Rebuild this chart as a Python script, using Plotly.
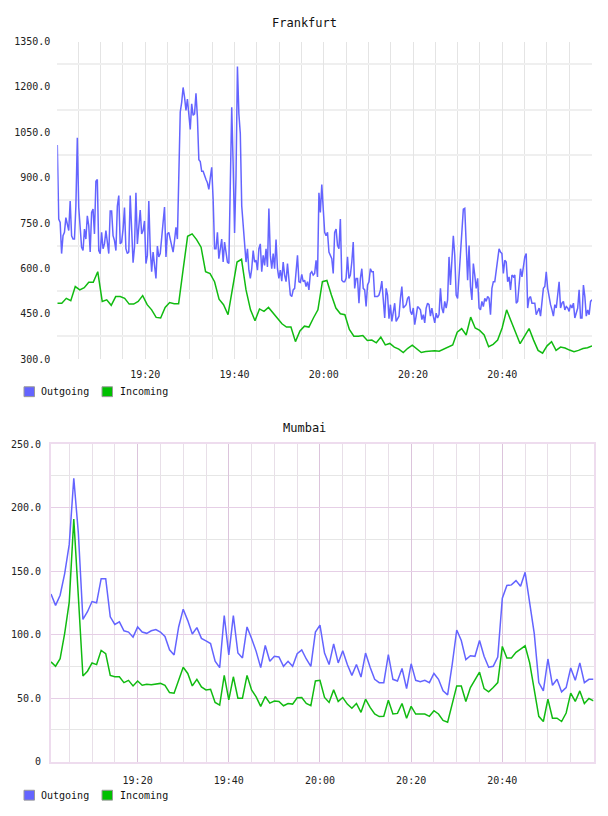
import numpy as np
import pandas as pd
import plotly.graph_objects as go

DAY = "2024-01-01 "

# ---------------- Frankfurt ----------------
fra_start, fra_end = DAY + "19:00:18", DAY + "21:00:06"
fra_outgoing = [
    1008, 763, 752, 649, 708, 719, 768, 741, 725, 823, 708, 697, 697, 806, 1032, 801, 741, 670, 659, 730,
    697, 774, 741, 654, 785, 796, 714, 888, 894, 659, 649, 719, 665, 681, 725, 676, 649, 790, 790, 708,
    692, 659, 806, 841, 681, 687, 730, 801, 665, 649, 654, 841, 730, 619, 670, 850, 681, 741, 793, 714,
    725, 757, 616, 643, 823, 665, 589, 654, 599, 567, 674, 638, 649, 714, 752, 803, 638, 714, 719, 697,
    676, 654, 692, 736, 697, 872, 1117, 1149, 1198, 1166, 1122, 1160, 1111, 1059, 1144, 1106, 1111, 1179, 1100, 959,
    953, 921, 921, 904, 894, 883, 861, 899, 934, 828, 665, 665, 719, 632, 670, 697, 621, 687, 654, 621,
    616, 828, 1133, 943, 717, 904, 1267, 1111, 1046, 806, 752, 687, 621, 665, 594, 567, 599, 659, 621, 627,
    594, 665, 681, 589, 643, 610, 665, 605, 798, 643, 599, 649, 599, 695, 599, 567, 594, 558, 621, 578,
    556, 616, 556, 512, 507, 529, 534, 578, 643, 556, 554, 580, 556, 561, 540, 556, 529, 583, 589, 578,
    583, 627, 572,
    850, 785, 877, 774, 719, 708, 719, 654, 643, 632, 583, 719, 730, 676, 665, 763, 561, 556, 556, 567,
    638, 567, 578, 621, 687, 534, 567, 567, 485, 567, 599, 534, 529, 474, 545, 556, 599, 589, 589, 507,
    507, 507, 512, 529, 558, 480, 436, 534, 512, 434, 480, 425, 458, 485, 425, 436, 442, 501, 540, 469,
    474, 480, 501, 507, 458, 447, 469, 414, 442, 474, 469, 463, 431, 447, 420, 469, 485, 480, 442, 469,
    442, 420, 452, 436, 447, 534, 469, 452, 491, 469, 496, 638, 545, 638, 708, 643, 512, 501, 578, 643,
    708, 796, 799, 676, 561, 676, 540, 496, 616, 578, 534, 567, 469, 463, 491, 474, 501, 491, 507, 501,
    447, 534, 556, 556, 599, 643, 665, 654, 649, 583, 627, 621, 556, 572, 529, 578, 572, 578, 485, 491,
    540, 599, 572, 616, 638, 649, 469, 501, 507, 485, 485, 485, 447, 458, 469, 442, 480, 534, 540, 589,
    534, 501, 480, 463, 442, 480, 469, 512, 556, 469, 485, 491, 463, 474, 469, 458, 480, 469, 485, 436,
    458, 469, 529, 436, 436, 545, 507, 442, 463, 447, 491, 496,
]
fra_incoming = [
    485, 485, 501, 493, 540, 529, 536, 554, 554, 589, 491, 496, 478, 507, 507, 501, 482, 482, 491, 510,
    480, 463, 438, 436, 471, 487, 483, 483, 596, 706, 714, 695, 670, 589, 583, 556, 498, 480, 447, 540,
    621, 630, 529, 463, 427, 466, 458, 471, 452, 436, 417, 406, 406, 358, 393, 409, 406, 436, 463, 556,
    560, 512, 469, 450, 447, 398, 376, 376, 378, 362, 363, 354, 373, 347, 352, 340, 333, 322, 336, 346,
    333, 322, 325, 327, 328, 326, 333, 338, 347, 389, 401, 380, 439, 403, 395, 380, 341, 349, 363, 403,
    463, 425, 387, 351, 376, 401, 363, 329, 320, 344, 358, 329, 340, 337, 330, 325, 329, 335, 338, 344,
]
fra_yticks = [300, 450, 600, 750, 900, 1050, 1200, 1350]

# ---------------- Mumbai ----------------
mum_start, mum_end = DAY + "19:01:00", DAY + "21:00:00"
mum_outgoing = [
    132, 123, 131, 148, 171, 223, 180, 112, 118, 126, 125, 144, 144, 114, 108, 110, 103, 102, 98, 106,
    102, 101, 103, 104, 102, 98.5, 88, 84, 106, 120, 111, 100.5, 105.5, 97, 95, 93, 79, 74, 115, 84,
    115, 85.5, 81.6, 106, 97, 86.8, 74, 91.4, 79, 82.9, 82.4, 75, 79, 75, 85, 88, 80.8, 75, 102, 107.5,
    85.5, 76.4, 92.7, 77.7, 87.3, 76.4, 67.9, 76.4, 66.6, 85.5, 74.3, 64.8, 62.2, 62.2, 84.2, 64.8, 63.5, 73.3, 57.5, 77,
    64, 63, 64, 62.2, 69.4, 64.8, 55.7, 52.6, 76.4, 103.6, 95.3, 80.3, 83.4, 82.9, 95.3, 82.9, 74.3, 75.1, 82.4, 128.7,
    138.6, 139.1, 142.5, 138.1, 149, 124.3, 101, 62.2, 55.7, 80.8, 60.1, 64.8, 54.9, 58.3, 73.8, 64, 77.7, 62.2, 64.8, 64.8,
]
mum_incoming = [
    78.5, 75.1, 81.1, 101, 125.6, 191, 130, 67.4, 71.2, 77.7, 76.4, 87.6, 85, 67.9, 66.8, 66.8, 62.2, 64, 59.6, 63.5,
    60.1, 60.9, 60.6, 61.1, 61.6, 60.1, 54.4, 53.9, 64.8, 74.3, 69.4, 59.6, 64.8, 58.8, 56.5, 57, 46.6, 44.5, 67.9, 48.7,
    66.8, 50, 50, 67.9, 56.5, 51, 43.5, 51.3, 46.1, 47.7, 47.4, 44, 45.8, 45.3, 50.3, 50.5, 45.8, 44, 63.5, 64,
    50.5, 46.6, 56.5, 47.4, 50.5, 45.3, 42, 45.8, 38.8, 49.2, 42.7, 37.5, 35.5, 35.7, 48.4, 37.5, 38, 45.8, 34.2, 43.5,
    37.5, 37.5, 37.5, 35.7, 40.1, 37.5, 32.4, 31.1, 44.5, 59.6, 59.6, 47.4, 58.3, 64, 70.5, 57.5, 54.9, 58.3, 62.2, 90.7,
    81.6, 81.6, 86, 88.6, 91.2, 77.7, 57, 35.7, 31.6, 49.2, 34.2, 34.2, 31.6, 38.3, 53.9, 47.4, 55.7, 45.8, 49.7, 47.9,
]
mum_yticks = [0, 50, 100, 150, 200, 250]
mum_yticktext = ["0", "50.0", "100.0", "150.0", "200.0", "250.0"]
mum_midline = 125

x_ticks = ["19:20", "19:40", "20:00", "20:20", "20:40"]
series_names = ["Outgoing", "Incoming"]

BLUE = "#6464ff"
GREEN = "#11bb11"
FONT = "DejaVu Sans Mono"
W, H = 608, 816


def times(start, end, n):
    a, b = pd.Timestamp(start).value, pd.Timestamp(end).value
    return pd.to_datetime(np.linspace(a, b, n).astype("int64"))


def px(x):
    return x / W


def py(y):
    return 1 - y / H


tickvals_x = [pd.Timestamp(DAY + t) for t in x_ticks]
minor_x = list(pd.date_range(DAY + "19:00", DAY + "21:00", freq="5min"))

fig = go.Figure()
fig.add_trace(go.Scatter(x=times(fra_start, fra_end, len(fra_outgoing)), y=fra_outgoing, mode="lines",
                         line=dict(color=BLUE, width=1.5), name=series_names[0], xaxis="x", yaxis="y"))
fig.add_trace(go.Scatter(x=times(fra_start, fra_end, len(fra_incoming)), y=fra_incoming, mode="lines",
                         line=dict(color=GREEN, width=1.5), name=series_names[1], xaxis="x", yaxis="y"))
fig.add_trace(go.Scatter(x=times(mum_start, mum_end, len(mum_outgoing)), y=mum_outgoing, mode="lines",
                         line=dict(color=BLUE, width=1.5), name=series_names[0], xaxis="x2", yaxis="y2"))
fig.add_trace(go.Scatter(x=times(mum_start, mum_end, len(mum_incoming)), y=mum_incoming, mode="lines",
                         line=dict(color=GREEN, width=1.5), name=series_names[1], xaxis="x2", yaxis="y2"))

tickfont = dict(family=FONT, size=10, color="#222")

fig.update_layout(
    width=W, height=H, margin=dict(l=0, r=0, t=0, b=0),
    paper_bgcolor="white", plot_bgcolor="white", showlegend=False,
    font=dict(family=FONT, size=10, color="#222"),
    xaxis=dict(domain=[px(57.3), px(592)], anchor="y", type="date", range=[fra_start, fra_end],
               tickmode="array", tickvals=tickvals_x, ticktext=x_ticks, ticks="", ticklabelstandoff=8,
               showgrid=True, gridcolor="#e4e4e4", gridwidth=1, zeroline=False, showline=False,
               minor=dict(tickmode="array", tickvals=minor_x, showgrid=True, gridcolor="#e4e4e4", gridwidth=1),
               tickfont=tickfont),
    yaxis=dict(domain=[py(359), py(37)], anchor="x", range=[300, 1350], tickmode="array",
               tickvals=fra_yticks, ticktext=[f"{v:.1f}" for v in fra_yticks], ticks="", ticklabelstandoff=6,
               showgrid=False, zeroline=False, showline=False,
               minor=dict(tickmode="array", tickvals=[v + 75 for v in fra_yticks[:-1]], showgrid=True,
                          gridcolor="#efefef", gridwidth=2),
               tickfont=tickfont),
    xaxis2=dict(domain=[px(51), px(593.5)], anchor="y2", type="date", range=[mum_start, mum_end],
                tickmode="array", tickvals=tickvals_x, ticktext=x_ticks, ticks="", ticklabelstandoff=8,
                showgrid=True, gridcolor="#dcc4dc", gridwidth=1, zeroline=False,
                showline=True, mirror=True, linecolor="#eedcee", linewidth=2,
                minor=dict(tickmode="array", tickvals=minor_x, showgrid=True, gridcolor="#e8dfe8", gridwidth=1),
                tickfont=tickfont),
    yaxis2=dict(domain=[py(767), py(445)], anchor="x2", range=[0, 250], tickmode="array",
                tickvals=mum_yticks, ticktext=mum_yticktext, ticks="", ticklabelstandoff=6,
                showgrid=True, gridcolor="#e6cfe6", gridwidth=1, zeroline=False,
                showline=True, mirror=True, linecolor="#eedcee", linewidth=2,
                minor=dict(tickmode="array", tickvals=[v + 25 for v in mum_yticks[:-1]], showgrid=True,
                           gridcolor="#e6e6e6", gridwidth=1),
                tickfont=tickfont),
)

# light mid line in the Mumbai panel
fig.add_shape(type="line", xref="x2 domain", yref="y2", x0=0, x1=1, y0=mum_midline, y1=mum_midline,
              line=dict(color="#eeeeee", width=2), layer="below")

# titles
fig.add_annotation(text="Frankfurt", x=0.5, y=py(18), xref="paper", yref="paper", showarrow=False,
                   font=dict(family=FONT, size=12, color="#111"), xanchor="center", yanchor="middle")
fig.add_annotation(text="Mumbai", x=0.5, y=py(429), xref="paper", yref="paper", showarrow=False,
                   font=dict(family=FONT, size=12, color="#111"), xanchor="center", yanchor="middle")

# legends
for cy in (392, 801):
    for (x0, tx, name, col) in ((24, 39, series_names[0], BLUE), (102, 118, series_names[1], "#00c000")):
        fig.add_shape(type="rect", xref="paper", yref="paper", x0=px(x0), x1=px(x0 + 10.5),
                      y0=py(cy - 5), y1=py(cy + 5), fillcolor=col, line=dict(color="#999", width=1))
        fig.add_annotation(text=name, x=px(tx), y=py(cy), xref="paper", yref="paper", showarrow=False,
                           xanchor="left", yanchor="middle", font=dict(family=FONT, size=10, color="#111"))

fig.write_html("out.html")
